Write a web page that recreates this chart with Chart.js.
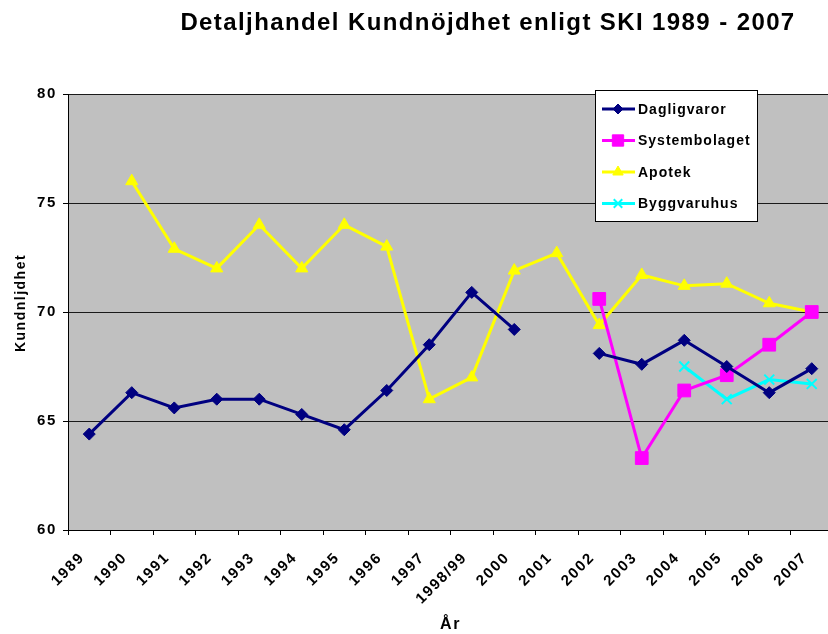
<!DOCTYPE html>
<html>
<head>
<meta charset="utf-8">
<script src="https://cdn.jsdelivr.net/npm/chart.js@4.4.1/dist/chart.umd.min.js"></script>
<style>
  html, body { margin: 0; padding: 0; background: #fff; overflow: hidden; }
  #wrap { width: 828px; height: 634px; overflow: hidden; }
</style>
</head>
<body>
<div id="wrap"><canvas id="skiChart" width="843" height="634"></canvas></div>
<script>
var years = ['1989', '1990', '1991', '1992', '1993', '1994', '1995', '1996', '1997',
    '1998/99', '2000', '2001', '2002', '2003', '2004', '2005', '2006', '2007'];

var dagligvaror   = [64.4, 66.3, 65.6, 66.0, 66.0, 65.3, 64.6, 66.4, 68.5, 70.9, 69.2, null, 68.1, 67.6, 68.7, 67.5, 66.3, 67.4];
var systembolaget = [null, null, null, null, null, null, null, null, null, null, null, null, 70.6, 63.3, 66.4, 67.1, 68.5, 70.0];
var apotek        = [null, 76.0, 72.9, 72.0, 74.0, 72.0, 74.0, 73.0, 66.0, 67.0, 71.9, 72.7, 69.4, 71.7, 71.2, 71.3, 70.4, 70.0];
var byggvaruhus   = [null, null, null, null, null, null, null, null, null, null, null, null, null, null, 67.5, 66.0, 66.9, 66.7];

var yTicks = [60, 65, 70, 75, 80];

var FONT = '"Liberation Sans", Arial, sans-serif';
var SPACING = '1.6px';

function series(label, data, color, style, radius) {
    return {
        label: label,
        data: data,
        borderColor: color,
        backgroundColor: color,
        pointBackgroundColor: color,
        pointBorderColor: color,
        borderWidth: 3,
        pointStyle: style,
        pointRadius: radius,
        pointBorderWidth: style === 'crossRot' ? 2 : 1,
        tension: 0,
        spanGaps: false
    };
}

var datasetArray = [
    series('Dagligvaror', dagligvaror, '#000080', 'rectRot', 6),
    series('Systembolaget', systembolaget, '#FF00FF', 'rect', 9),
    series('Apotek', apotek, '#FFFF00', 'triangle', 7),
    series('Byggvaruhus', byggvaruhus, '#00FFFF', 'crossRot', 7)
];

// excel-ish look: gray plot, wide-spaced text, title, y title, boxed legend
var excelLook = {
    id: 'excelLook',
    beforeUpdate: function (chart) {
        chart.ctx.letterSpacing = SPACING;
    },
    beforeDraw: function (chart) {
        var a = chart.chartArea, ctx = chart.ctx;
        ctx.letterSpacing = SPACING;
        ctx.save();
        ctx.fillStyle = '#C0C0C0';
        ctx.fillRect(a.left, a.top, a.right - a.left, a.bottom - a.top);
        ctx.restore();
    },
    afterDraw: function (chart) {
        var ctx = chart.ctx;
        ctx.save();
        ctx.fillStyle = '#000';
        ctx.textAlign = 'center';
        ctx.textBaseline = 'middle';
        ctx.letterSpacing = '1.4px';
        ctx.font = 'bold 24px ' + FONT;
        ctx.fillText('Detaljhandel Kundnöjdhet enligt SKI 1989 - 2007', 488, 23);

        // y axis title
        ctx.save();
        ctx.translate(21.5, 303);
        ctx.rotate(-Math.PI / 2);
        ctx.letterSpacing = '1.5px';
        ctx.font = 'bold 14px ' + FONT;
        ctx.fillText('Kundnljdhet', 0, 0);
        ctx.restore();

        // legend box
        var bx = 595, by = 90, bw = 162, bh = 131;
        ctx.fillStyle = '#fff';
        ctx.fillRect(bx, by, bw, bh);
        ctx.strokeStyle = '#000';
        ctx.lineWidth = 1;
        ctx.strokeRect(bx + 0.5, by + 0.5, bw, bh);

        ctx.letterSpacing = '1px';
        ctx.font = 'bold 14px ' + FONT;
        ctx.textAlign = 'left';
        chart.data.datasets.forEach(function (ds, i) {
            var y = by + 19 + i * 31.5;
            ctx.strokeStyle = ds.borderColor;
            ctx.lineWidth = 3;
            ctx.beginPath();
            ctx.moveTo(bx + 7, y);
            ctx.lineTo(bx + 40, y);
            ctx.stroke();
            ctx.fillStyle = ds.pointBackgroundColor;
            ctx.strokeStyle = ds.pointBorderColor;
            ctx.lineWidth = ds.pointBorderWidth;
            Chart.helpers.drawPoint(ctx, {
                pointStyle: ds.pointStyle,
                radius: ds.pointRadius - 1,
                rotation: 0,
                borderWidth: ds.pointBorderWidth
            }, bx + 23, y);
            ctx.fillStyle = '#000';
            ctx.fillText(ds.label, bx + 43, y + 1);
        });
        ctx.restore();
    }
};

var ctx = document.getElementById('skiChart').getContext('2d');
var chart = new Chart(ctx, {
    type: 'line',
    data: {
        labels: years,
        datasets: datasetArray
    },
    plugins: [excelLook],
    options: {
        responsive: false,
        animation: false,
        layout: { padding: { top: 94, left: 0, right: 0, bottom: 0 } },
        plugins: {
            legend: { display: false },
            title: { display: false },
            tooltip: { enabled: false }
        },
        scales: {
            x: {
                offset: true,
                grid: {
                    offset: true,
                    drawOnChartArea: false,
                    drawTicks: true,
                    tickLength: 5,
                    tickColor: '#000'
                },
                border: { color: '#000', width: 1 },
                ticks: {
                    autoSkip: false,
                    minRotation: 45,
                    maxRotation: 45,
                    padding: 14,
                    labelOffset: -7,
                    color: '#000',
                    font: { family: FONT, size: 15, weight: 'bold' }
                },
                title: {
                    display: true,
                    text: 'År',
                    color: '#000',
                    padding: { top: 0, bottom: 0 },
                    font: { family: FONT, size: 16, weight: 'bold' }
                },
                afterFit: function (scale) {
                    scale.height = 104;
                    scale.paddingLeft = 0;
                    scale.paddingRight = 0;
                }
            },
            y: {
                min: 60,
                max: 80,
                afterBuildTicks: function (scale) {
                    scale.ticks = yTicks.map(function (v) { return { value: v }; });
                },
                grid: {
                    color: '#1a1a1a',
                    lineWidth: 1,
                    drawTicks: true,
                    tickLength: 5,
                    tickColor: '#000'
                },
                border: { color: '#000', width: 1 },
                ticks: {
                    padding: 6,
                    color: '#000',
                    font: { family: FONT, size: 15, weight: 'bold' }
                },
                afterFit: function (scale) {
                    scale.width = 68;
                    scale.paddingTop = 0;
                    scale.paddingBottom = 0;
                }
            }
        }
    }
});
</script>
</body>
</html>
